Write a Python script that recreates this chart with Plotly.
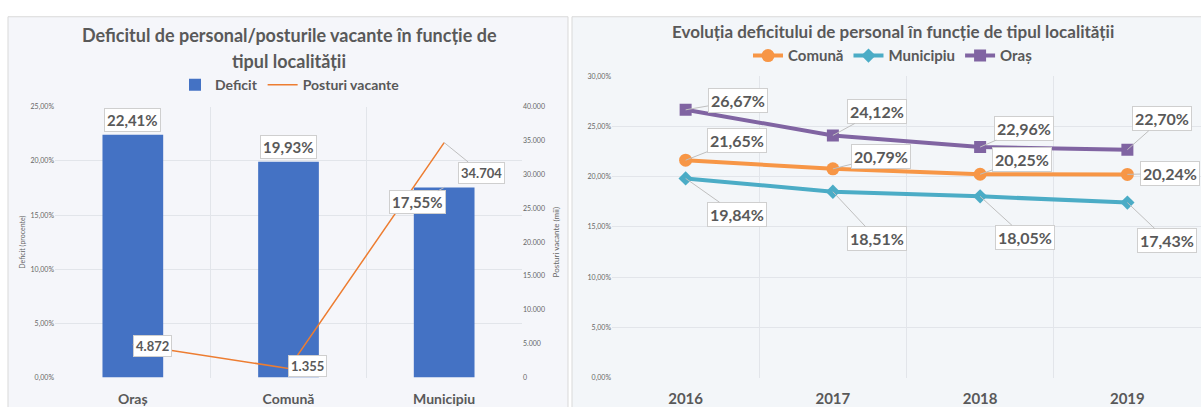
import plotly.graph_objects as go

# ---------------- data ----------------
categories = ["Oraș", "Comună", "Municipiu"]
deficit = [0.2241, 0.1993, 0.1755]
posturi_vacante = [4872, 1355, 34704]

years = ["2016", "2017", "2018", "2019"]
comuna = [0.2165, 0.2079, 0.2025, 0.2024]
municipiu = [0.1984, 0.1851, 0.1805, 0.1743]
oras = [0.2667, 0.2412, 0.2296, 0.2270]

W, H = 1201, 407
FONT = "Lato"
TXT = "#595959"
GRID = "#e2e5ea"


def fx(p):
    return p / W


def fy(p):
    return 1 - p / H


def pct(v):
    return f"{v*100:.2f}".replace(".", ",") + "%"


def thou(v):
    return f"{v:,}".replace(",", ".")


fig = go.Figure()

# left chart
fig.add_trace(go.Bar(x=categories, y=deficit, name="Deficit", marker_color="#4472C4",
                     marker_line_width=0, xaxis="x", yaxis="y", legend="legend"))
fig.add_trace(go.Scatter(x=categories, y=posturi_vacante, name="Posturi vacante", mode="lines",
                         line=dict(color="#ED7D31", width=1.5), xaxis="x", yaxis="y2",
                         legend="legend"))

# right chart
series = [("Comună", comuna, "#F79646", "circle", 13),
          ("Municipiu", municipiu, "#4BACC6", "diamond", 11),
          ("Oraș", oras, "#8064A2", "square", 12)]
for name, vals, col, sym, sz in series:
    fig.add_trace(go.Scatter(x=years, y=vals, name=name, mode="lines+markers",
                             line=dict(color=col, width=4),
                             marker=dict(symbol=sym, size=sz, color=col),
                             xaxis="x2", yaxis="y3", legend="legend2"))

ann = []
box = dict(bgcolor="white", bordercolor="#cfcfcf", borderwidth=1, borderpad=2,
           arrowcolor="#bfbfbf", arrowwidth=1, arrowhead=0)

# bar labels
bar_off = [None, None, (-27, 15)]
for i, (c, v, off) in enumerate(zip(categories, deficit, bar_off)):
    if off is None:
        ann.append(dict(x=i, y=v, xref="x", yref="y", text=pct(v), showarrow=False,
                        yanchor="bottom", yshift=3,
                        font=dict(family=FONT, size=15, color=TXT, weight="bold"), **box))
    else:
        ann.append(dict(x=i, y=v, xref="x", yref="y", text=pct(v), showarrow=True,
                        ax=off[0], ay=off[1],
                        font=dict(family=FONT, size=15, color=TXT, weight="bold"), **box))

line_off = [(20, 1), (19, -2), (37, 30)]
for i, (c, v, off) in enumerate(zip(categories, posturi_vacante, line_off)):
    ann.append(dict(x=i, y=v, xref="x", yref="y2", text=thou(v), showarrow=True,
                    ax=off[0], ay=off[1],
                    font=dict(family=FONT, size=13, color=TXT, weight="bold"), **box))

offs = {
    "Oraș": [(52, -9), (44, -24), (44, -19), (35, -31)],
    "Comună": [(51, -20), (48, -12), (42, -15), (43, -1)],
    "Municipiu": [(51, 36), (44, 47), (45, 41), (40, 38)],
}
for name, vals, col, sym, sz in series:
    for i, (yr, v, off) in enumerate(zip(years, vals, offs[name])):
        ann.append(dict(x=i, y=v, xref="x2", yref="y3", text=pct(v), showarrow=True,
                        ax=off[0], ay=off[1],
                        font=dict(family=FONT, size=16, color=TXT, weight="bold"), **box))

# titles
ann.append(dict(x=fx(289), y=fy(31), xref="paper", yref="paper", showarrow=False,
                text="Deficitul de personal/posturile vacante în funcție de",
                font=dict(family=FONT, size=18, color=TXT, weight="bold"),
                xanchor="center", yanchor="middle"))
ann.append(dict(x=fx(289), y=fy(57), xref="paper", yref="paper", showarrow=False,
                text="tipul localității",
                font=dict(family=FONT, size=18, color=TXT, weight="bold"),
                xanchor="center", yanchor="middle"))
ann.append(dict(x=fx(893), y=fy(27), xref="paper", yref="paper", showarrow=False,
                text="Evoluția deficitului de personal în funcție de tipul localității",
                font=dict(family=FONT, size=17, color=TXT, weight="bold"),
                xanchor="center", yanchor="middle"))

shapes = [
    dict(type="rect", xref="paper", yref="paper", x0=fx(8), x1=fx(568), y0=-0.05, y1=fy(12),
         fillcolor="#f5f6fa", line=dict(color="#d9d9d9", width=1), layer="below"),
    dict(type="rect", xref="paper", yref="paper", x0=fx(572), x1=1.05, y0=-0.05, y1=fy(12),
         fillcolor="#f3f6f9", line=dict(color="#d9d9d9", width=1), layer="below"),
]

small = dict(family=FONT, size=7, color="#666666")

fig.update_layout(
    width=W, height=H,
    margin=dict(l=0, r=0, t=0, b=0),
    paper_bgcolor="white", plot_bgcolor="rgba(0,0,0,0)",
    separators=",.",
    bargap=0.61,
    font=dict(family=FONT, color=TXT),
    annotations=ann, shapes=shapes,
    xaxis=dict(domain=[fx(55), fx(522)], type="category", tickson="boundaries",
               showgrid=True, gridcolor=GRID, ticks="", range=[-0.5, 2.5],
               tickfont=dict(family=FONT, size=14, color=TXT, weight="bold"),
               ticklabelstandoff=11, anchor="y"),
    yaxis=dict(domain=[fy(381), fy(104)], range=[0, 0.25], dtick=0.05, tickformat=".2%",
               showgrid=True, gridcolor=GRID, zeroline=False, tickfont=small,
               title=dict(text="Deficit (procente)", font=small, standoff=4), anchor="x"),
    yaxis2=dict(overlaying="y", side="right", range=[0, 40000], dtick=5000, tickformat=",d",
                showgrid=False, zeroline=False, tickfont=small, anchor="x",
                title=dict(text="Posturi vacante (mii)", font=dict(family=FONT, size=8, color="#666666"), standoff=9)),
    xaxis2=dict(domain=[fx(612), 1.0], type="category", tickson="boundaries",
                showgrid=True, gridcolor=GRID, ticks="", range=[-0.5, 3.5],
                tickfont=dict(family=FONT, size=15, color=TXT, weight="bold"),
                ticklabelstandoff=10, anchor="y3"),
    yaxis3=dict(domain=[fy(381), fy(73)], range=[0, 0.30], dtick=0.05, tickformat=".2%",
                showgrid=True, gridcolor=GRID, zeroline=False, tickfont=small, anchor="x2"),
    legend=dict(orientation="h", x=fx(290), y=fy(82), xanchor="center", yanchor="middle",
                bgcolor="rgba(0,0,0,0)", font=dict(family=FONT, size=14, color=TXT, weight="bold"),
                itemwidth=30, tracegroupgap=0),
    legend2=dict(orientation="h", x=fx(893), y=fy(52), xanchor="center", yanchor="middle",
                 bgcolor="rgba(0,0,0,0)", font=dict(family=FONT, size=15, color=TXT, weight="bold"),
                 itemwidth=30),
    showlegend=True,
)

fig.write_html("out.html", config={"displayModeBar": False},
               post_script="document.body.style.margin='0';")
